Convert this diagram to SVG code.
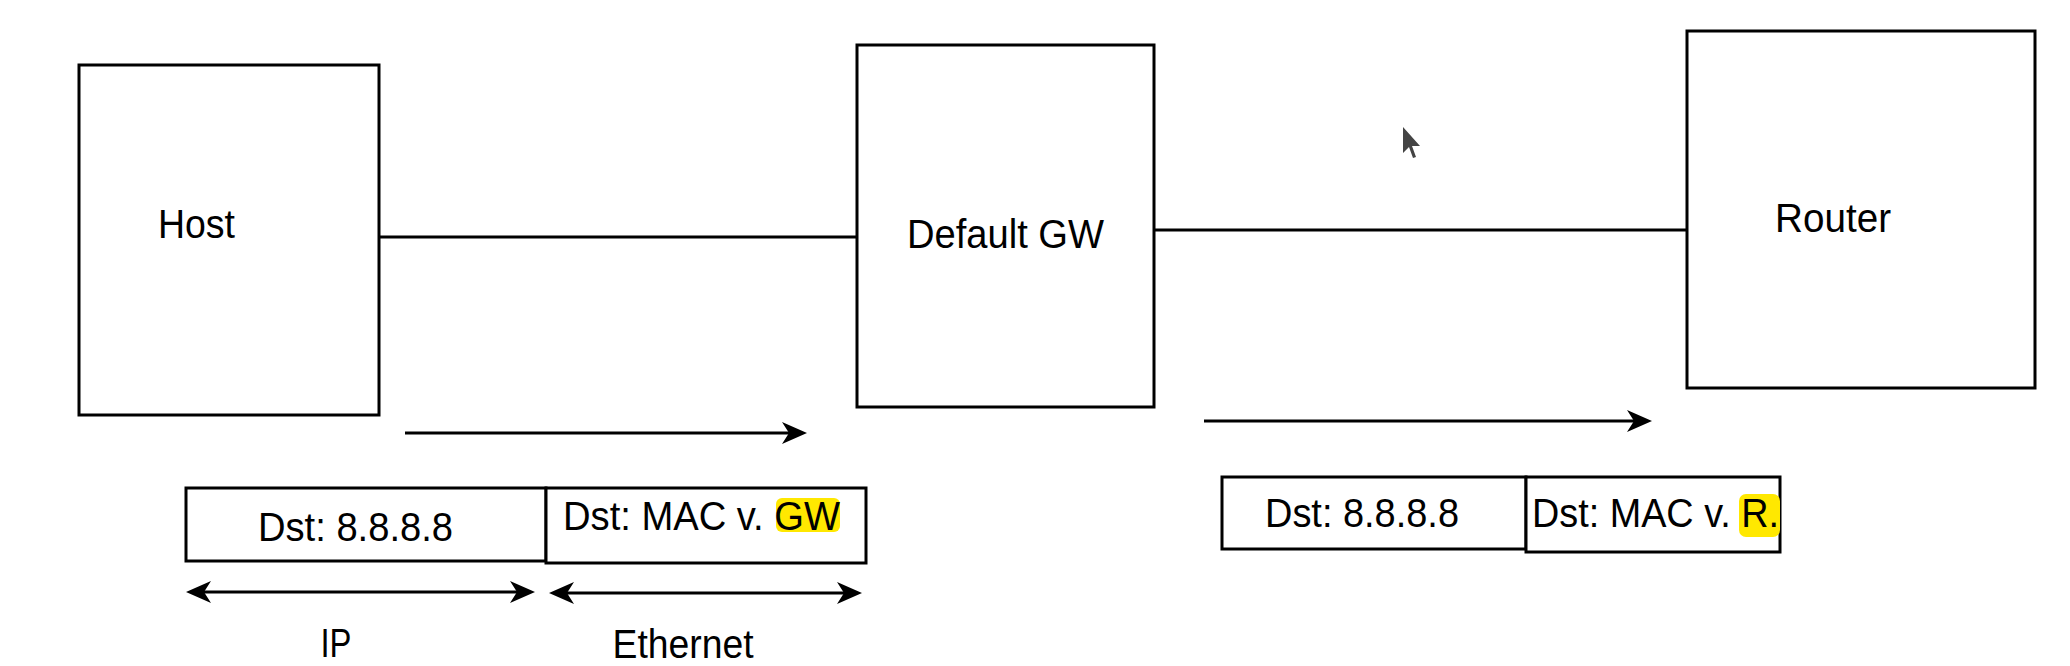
<svg xmlns="http://www.w3.org/2000/svg" width="2070" height="666" viewBox="0 0 2070 666">
<style>
.box{fill:#fff;stroke:#000;stroke-width:3}
.ln{fill:none;stroke:#000;stroke-width:3}
.t{font-family:"Liberation Sans",Arial,sans-serif;font-size:40px;fill:#000}
.hl{fill:#FFE800}
</style>
<defs>
<marker id="ah" markerUnits="userSpaceOnUse" viewBox="-26 -12 28 24" markerWidth="28" markerHeight="24" refX="-5" refY="0" orient="auto-start-reverse">
<path d="M0,0 L-25,-11 L-18,0 L-25,11 Z" fill="#000"/>
</marker>
</defs>
<rect width="2070" height="666" fill="#fff"/>
<g id="connectors">
<line class="ln" x1="379" y1="237" x2="857" y2="237"/>
<line class="ln" x1="1154" y1="230" x2="1687" y2="230"/>
<line class="ln" x1="405" y1="433" x2="802" y2="433" marker-end="url(#ah)"/>
<line class="ln" x1="1204" y1="421" x2="1647" y2="421" marker-end="url(#ah)"/>
<line class="ln" x1="191" y1="592" x2="530" y2="592" marker-start="url(#ah)" marker-end="url(#ah)"/>
<line class="ln" x1="554" y1="593" x2="857" y2="593" marker-start="url(#ah)" marker-end="url(#ah)"/>
</g>
<g id="host">
<rect class="box" x="79" y="65" width="300" height="350"/>
<text class="t" x="158" y="238" textLength="77" lengthAdjust="spacingAndGlyphs">Host</text>
</g>
<g id="default-gw">
<rect class="box" x="857" y="45" width="297" height="362"/>
<text class="t" x="907" y="248" textLength="197" lengthAdjust="spacingAndGlyphs">Default GW</text>
</g>
<g id="router">
<rect class="box" x="1687" y="31" width="348" height="357"/>
<text class="t" x="1775" y="232" textLength="116" lengthAdjust="spacingAndGlyphs">Router</text>
</g>
<g id="packet1-ip">
<rect class="box" x="186" y="488" width="360" height="73"/>
<text class="t" x="258" y="541" textLength="195" lengthAdjust="spacingAndGlyphs">Dst: 8.8.8.8</text>
</g>
<g id="packet1-eth">
<rect class="box" x="546" y="488" width="320" height="75"/>
<rect class="hl" x="776" y="498" width="64" height="34" rx="6"/>
<text class="t" x="563" y="530" textLength="277" lengthAdjust="spacingAndGlyphs">Dst: MAC v. GW</text>
</g>
<g id="packet2-ip">
<rect class="box" x="1222" y="477" width="304" height="72"/>
<text class="t" x="1265" y="527" textLength="194" lengthAdjust="spacingAndGlyphs">Dst: 8.8.8.8</text>
</g>
<g id="packet2-eth">
<rect class="box" x="1526" y="477" width="254" height="75"/>
<rect class="hl" x="1739" y="494" width="41" height="43" rx="7"/>
<text class="t" x="1532" y="527" textLength="247" lengthAdjust="spacingAndGlyphs">Dst: MAC v. R.</text>
</g>
<g id="labels">
<text class="t" x="336" y="657" text-anchor="middle" textLength="31" lengthAdjust="spacingAndGlyphs">IP</text>
<text class="t" x="683" y="658" text-anchor="middle" textLength="141" lengthAdjust="spacingAndGlyphs">Ethernet</text>
</g>
<polygon points="1403,127 1403,153 1409,147 1413,158 1416,157 1412,146 1420,146" fill="#444"/>
</svg>
